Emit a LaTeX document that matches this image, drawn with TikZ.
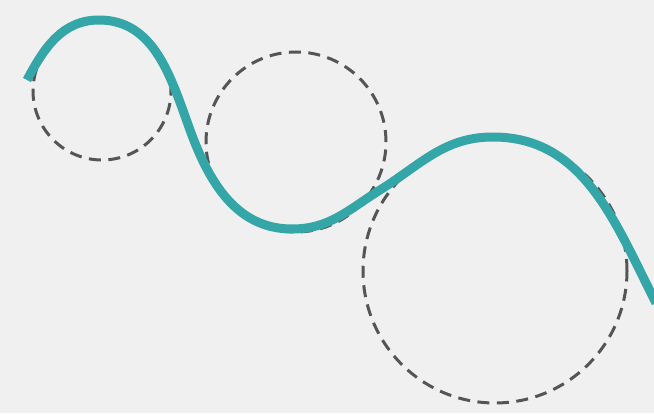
\documentclass[tikz,border=0pt]{standalone}
\usepackage{xcolor}
\usepackage{tikz}
\usetikzlibrary{calc}
\definecolor{paper}{RGB}{241,240,240}
\definecolor{curveteal}{RGB}{52,166,168}
\definecolor{dashgray}{RGB}{85,85,88}

\begin{document}
\begin{tikzpicture}[
  x=1pt, y=1pt,
  osccircle/.style={draw=dashgray, line width=3pt, dash pattern=on 12pt off 7.5pt},
  wavecurve/.style={draw=curveteal, line width=9pt}
]
% background / bounding box
\fill[paper] (0,0) rectangle (654,413);
\useasboundingbox (0,0) rectangle (654,413);

% circles of curvature
\coordinate (csmall) at (102,322);
\coordinate (cmid) at (296,271);
\coordinate (cbig) at (495,142);
\draw[osccircle] (csmall) circle (69);
\draw[osccircle] (cmid) circle (90);
\draw[osccircle] (cbig) circle (132);

% the curve
\coordinate (start) at (27,333);
\coordinate (peak) at (99,393);
\coordinate (turnA) at (190,283);
\coordinate (trough) at (292,184);
\coordinate (turnB) at (380,223);
\coordinate (crest) at (493,276);
\coordinate (finish) at (656,110);
\draw[wavecurve] (start) to[out=62,in=180] (peak)
  to[out=0,in=110] (turnA)
  to[out=-70,in=180] (trough)
  to[out=0,in=212] (turnB)
  to[out=32,in=180] (crest)
  to[out=0,in=117] (finish);
\end{tikzpicture}
\end{document}
